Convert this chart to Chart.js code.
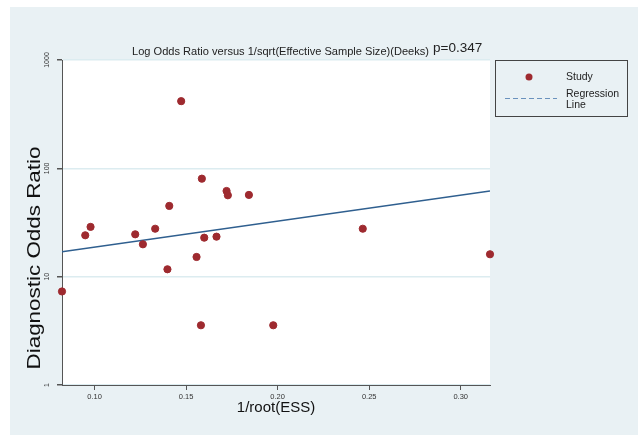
<!DOCTYPE html>
<html>
<head>
<meta charset="utf-8">
<script src="https://cdn.jsdelivr.net/npm/chart.js@4.4.0/dist/chart.umd.min.js"></script>
<style>
  html, body { margin: 0; padding: 0; background: #fff; }
</style>
</head>
<body>
<canvas id="deeksChart" width="638" height="435"></canvas>
<script>
// 1/root(ESS) and diagnostic odds ratio for each study
const studyX = [0.0822, 0.0949, 0.0978, 0.1222, 0.1264, 0.1331, 0.1398, 0.1408, 0.1473, 0.1557,
                0.1581, 0.1586, 0.1599, 0.1666, 0.1721, 0.1728, 0.1843, 0.1976, 0.2465, 0.3160];
const studyDOR = [7.3, 24.1, 28.8, 24.6, 19.9, 27.7, 11.7, 45, 417, 15.2,
                  3.56, 80.3, 22.9, 23.4, 61.8, 56.4, 56.8, 3.56, 27.7, 16.1];

// regression line ends
const regX = [0.0822, 0.316];
const regDOR = [17.0, 61.8];

const xTicks = [0.10, 0.15, 0.20, 0.25, 0.30];
const yTicks = [1, 10, 100, 1000];

const titleText = 'Log Odds Ratio versus 1/sqrt(Effective Sample Size)(Deeks)';
const pText = 'p=0.347';

const FONT = '"Liberation Sans", Arial, sans-serif';
const BG = '#e9f1f4';
const DOT = '#9e2a2f';

// draw text squeezed/stretched to a given length
function fitText(ctx, text, x, y, len) {
  const w = ctx.measureText(text).width;
  ctx.save();
  ctx.translate(x, y);
  ctx.scale(len / w, 1);
  ctx.fillText(text, 0, 0);
  ctx.restore();
}

const decorPlugin = {
  id: 'decor',
  beforeDraw(chart) {
    const { ctx, chartArea: a } = chart;
    ctx.save();
    ctx.fillStyle = '#fff';
    ctx.fillRect(0, 0, chart.width, chart.height);
    ctx.fillStyle = BG;
    ctx.fillRect(10, 7, chart.width - 10, chart.height - 7);
    ctx.fillStyle = '#fff';
    ctx.fillRect(a.left, a.top, a.right - a.left, a.bottom - a.top);
    ctx.restore();
  },
  afterDraw(chart) {
    const { ctx } = chart;
    const yScale = chart.scales.y;
    ctx.save();
    ctx.fillStyle = '#222';

    // title
    ctx.font = '10.5px ' + FONT;
    ctx.textBaseline = 'alphabetic';
    ctx.textAlign = 'left';
    fitText(ctx, titleText, 132, 55, 297);
    ctx.font = '13.5px ' + FONT;
    ctx.fillText(pText, 433, 52);

    // rotated y tick labels
    ctx.font = '7px ' + FONT;
    ctx.fillStyle = '#333';
    yTicks.forEach(v => {
      const py = yScale.getPixelForValue(v);
      ctx.save();
      ctx.translate(47, py);
      ctx.rotate(-Math.PI / 2);
      ctx.textAlign = 'center';
      ctx.textBaseline = 'middle';
      ctx.fillText(String(v), 0, 0);
      ctx.restore();
    });

    // y axis title (stretched along its length like the original)
    ctx.fillStyle = '#111';
    ctx.save();
    ctx.translate(35, 258);
    ctx.rotate(-Math.PI / 2);
    ctx.font = '18px ' + FONT;
    ctx.textAlign = 'center';
    ctx.textBaseline = 'middle';
    fitText(ctx, 'Diagnostic Odds Ratio', 0, 0, 223);
    ctx.restore();

    // x axis title
    ctx.font = '15px ' + FONT;
    ctx.textAlign = 'center';
    ctx.textBaseline = 'middle';
    ctx.fillText('1/root(ESS)', 276, 408);

    // legend box
    ctx.strokeStyle = '#444';
    ctx.lineWidth = 1;
    ctx.strokeRect(495.5, 60.5, 132, 56);
    ctx.fillStyle = DOT;
    ctx.beginPath();
    ctx.arc(529, 77, 3.5, 0, Math.PI * 2);
    ctx.fill();
    ctx.strokeStyle = '#6a92bd';
    ctx.setLineDash([5, 3]);
    ctx.beginPath();
    ctx.moveTo(505, 98.5);
    ctx.lineTo(557, 98.5);
    ctx.stroke();
    ctx.setLineDash([]);
    ctx.fillStyle = '#222';
    ctx.font = '10.5px ' + FONT;
    ctx.textAlign = 'left';
    ctx.textBaseline = 'middle';
    ctx.fillText('Study', 566, 77);
    ctx.fillText('Regression', 566, 94);
    ctx.fillText('Line', 566, 105.5);
    ctx.restore();
  }
};

const chart = new Chart(document.getElementById('deeksChart').getContext('2d'), {
  type: 'scatter',
  data: {
    datasets: [
      {
        label: 'Study',
        data: studyX.map((x, i) => ({ x, y: studyDOR[i] })),
        backgroundColor: DOT,
        borderColor: DOT,
        pointRadius: 3.6,
        clip: false,
        order: 1,
      },
      {
        label: 'Regression Line',
        type: 'line',
        data: regX.map((x, i) => ({ x, y: regDOR[i] })),
        borderColor: '#2f5f8f',
        borderWidth: 1.5,
        pointRadius: 0,
        fill: false,
        order: 2,
      },
    ],
  },
  options: {
    responsive: false,
    animation: false,
    devicePixelRatio: 1,
    layout: { padding: { left: 0, top: 60, right: 148, bottom: 0 } },
    plugins: {
      legend: { display: false },
      tooltip: { enabled: false },
      title: { display: false },
    },
    scales: {
      x: {
        type: 'linear',
        min: 0.0822,
        max: 0.316,
        afterBuildTicks: s => { s.ticks = xTicks.map(v => ({ value: v })); },
        afterFit: s => { s.height = 50; },
        ticks: {
          callback: v => Number(v).toFixed(2),
          font: { family: FONT, size: 7.5 },
          color: '#333',
          padding: 2,
          maxRotation: 0,
        },
        grid: { drawOnChartArea: false, tickLength: 5, tickColor: '#555' },
        border: { color: '#555', width: 1 },
      },
      y: {
        type: 'logarithmic',
        min: 1,
        max: 1000,
        afterBuildTicks: s => { s.ticks = yTicks.map(v => ({ value: v })); },
        afterFit: s => { s.width = 62; },
        ticks: { callback: () => '' },
        grid: { color: '#dcecf0', lineWidth: 1.5, tickLength: 5, tickColor: '#555' },
        border: { color: '#555', width: 1 },
      },
    },
  },
  plugins: [decorPlugin],
});
</script>
</body>
</html>
